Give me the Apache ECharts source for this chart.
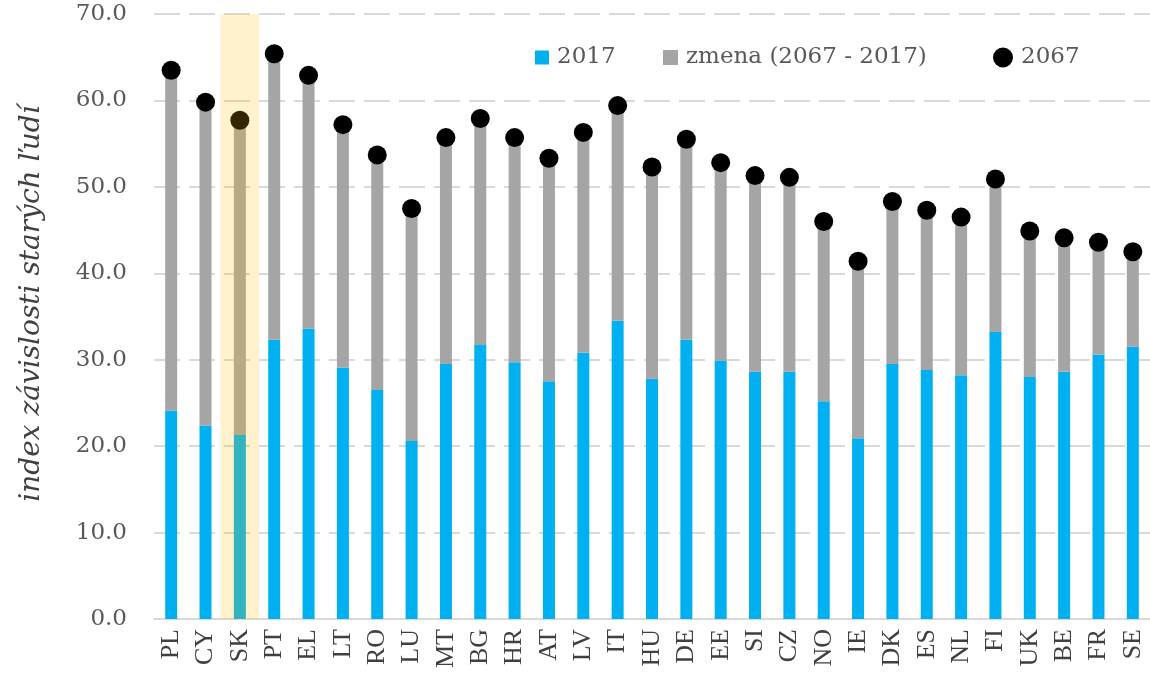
<!DOCTYPE html>
<html>
<head>
<meta charset="utf-8">
<script src="https://cdn.jsdelivr.net/npm/echarts@6/dist/echarts.min.js"></script>
<style>html,body{margin:0;padding:0;background:#fff}#c{width:1150px;height:684px}</style>
</head>
<body>
<div id="c"></div>
<script>
const categories = ['PL','CY','SK','PT','EL','LT','RO','LU','MT','BG','HR','AT','LV','IT','HU','DE','EE','SI','CZ','NO','IE','DK','ES','NL','FI','UK','BE','FR','SE'];
const values2017 = [24.1,22.4,21.3,32.3,33.6,29.1,26.5,20.6,29.5,31.7,29.7,27.5,30.8,34.5,27.8,32.3,29.9,28.6,28.6,25.2,20.9,29.5,28.8,28.2,33.2,28.0,28.6,30.6,31.5];
const valuesChange = [39.4,37.4,36.4,33.1,29.3,28.1,27.2,26.9,26.2,26.2,26.0,25.8,25.5,24.9,24.5,23.2,22.9,22.7,22.5,20.8,20.5,18.8,18.5,18.3,17.7,16.9,15.5,13.0,11.0];
const values2067 = [63.5,59.8,57.7,65.4,62.9,57.2,53.7,47.5,55.7,57.9,55.7,53.3,56.3,59.4,52.3,55.5,52.8,51.3,51.1,46.0,41.4,48.3,47.3,46.5,50.9,44.9,44.1,43.6,42.5];
const highlighted = ['SK'];
const yTicks = {min: 0, max: 70, interval: 10};

const chart = echarts.init(document.getElementById('c'), null, {renderer: 'canvas'});
const legendText = {fontFamily: 'DejaVu Serif', fontSize: 23, color: '#595959', padding: [0,0,0,3]};
chart.setOption({
  animation: false,
  backgroundColor: '#ffffff',
  grid: {left: 154, right: -4, top: 14, bottom: 65, containLabel: false},
  legend: [
    {data: ['2017'], left: 530, top: 41, itemWidth: 14, itemHeight: 14, textStyle: legendText, icon: 'rect'},
    {data: ['zmena (2067 - 2017)'], left: 658, top: 41, itemWidth: 15, itemHeight: 15, textStyle: legendText, icon: 'rect'},
    {data: ['2067'], left: 988, top: 41, itemWidth: 20, itemHeight: 20, textStyle: legendText, icon: 'circle'}
  ],
  xAxis: {
    type: 'category',
    data: categories,
    axisLine: {lineStyle: {color: '#D9D9D9', width: 2}},
    axisTick: {show: false},
    axisLabel: {rotate: 90, margin: 10, fontFamily: 'Liberation Serif', fontSize: 26, color: '#404040', interval: 0}
  },
  yAxis: {
    type: 'value',
    min: yTicks.min, max: yTicks.max, interval: yTicks.interval,
    name: 'index závislosti starých ľudí',
    nameLocation: 'middle',
    nameGap: 108,
    nameTextStyle: {fontFamily: 'DejaVu Serif', fontStyle: 'italic', fontSize: 28, color: '#404040', padding: [0, 0, 0, 26]},
    axisLine: {show: false},
    axisTick: {show: false},
    axisLabel: {formatter: v => v.toFixed(1), fontFamily: 'DejaVu Serif', fontSize: 23, color: '#595959', margin: 27},
    splitLine: {lineStyle: {color: '#D9D9D9', width: 2, type: [26, 9]}}
  },
  series: [
    {name: '2017', type: 'bar', stack: 'a', data: values2017, barWidth: 12, itemStyle: {color: '#00B0F0'}},
    {name: 'zmena (2067 - 2017)', type: 'bar', stack: 'a', data: valuesChange, barWidth: 12, itemStyle: {color: '#A5A5A5'}},
    {name: '2067', type: 'scatter', data: values2067, symbol: 'circle', symbolSize: 19, itemStyle: {color: '#000000', opacity: 1}, z: 5},
    {
      name: 'highlight', type: 'custom', z: 10, silent: true,
      data: highlighted.map(c => [c, yTicks.max]),
      renderItem: function (params, api) {
        const idx = api.value(0);
        const top = api.coord([idx, yTicks.max]);
        const bot = api.coord([idx, yTicks.min]);
        const w = api.size([1, 0])[0] * 1.13;
        return {type: 'rect', shape: {x: top[0] - w / 2, y: top[1], width: w, height: bot[1] - top[1]}, style: {fill: 'rgba(255,192,0,0.2)'}};
      }
    }
  ]
});
</script>
</body>
</html>
